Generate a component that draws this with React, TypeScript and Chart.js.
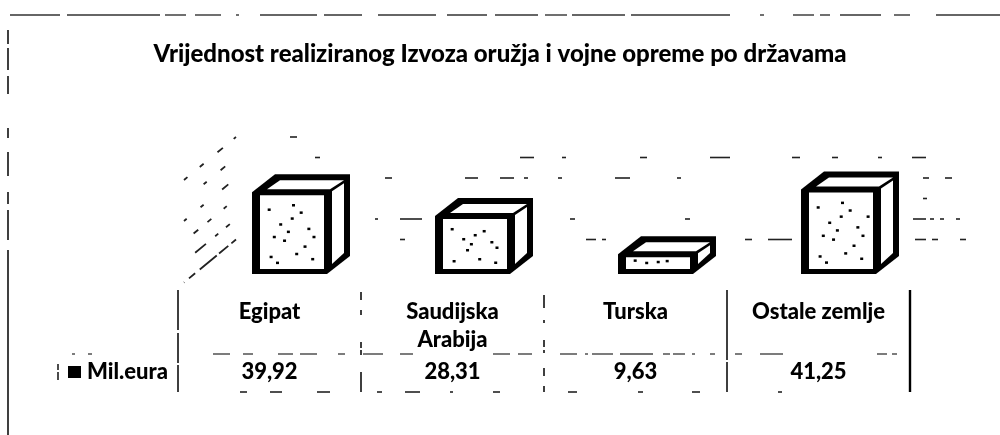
import React, { useEffect, useRef } from "react";
import { Chart, registerables } from "chart.js";

Chart.register(...registerables);

const chartTitle = "Vrijednost realiziranog Izvoza oružja i vojne opreme po državama";
const seriesName = "Mil.eura";
const categories: (string | string[])[] = ["Egipat", ["Saudijska", "Arabija"], "Turska", "Ostale zemlje"];
const milEura = [39.92, 28.31, 9.63, 41.25];
const axisMax = 60;
const axisStep = 10;

const FONT = "Lato, Carlito, sans-serif";
const INK = "#000000";

// scan-damaged look of the rules: which stretches of each line survived
const gridFragments: Record<number, number[][]> = {
  10: [[400, 405], [586, 590], [590, 596], [602, 606], [745, 752], [768, 792], [915, 926], [932, 938], [960, 966]],
  20: [[375, 378], [400, 422], [570, 575], [685, 690], [913, 926], [930, 934], [940, 944], [956, 960]],
  30: [[923, 927]],
  40: [[385, 392], [465, 478], [500, 514], [524, 528], [558, 562], [615, 630], [677, 681], [923, 929], [945, 952]],
  50: [[315, 320], [520, 534], [562, 566], [640, 647], [710, 730], [792, 800], [832, 838], [878, 882], [912, 926]],
  60: [[290, 297]],
};
const wallDash: Record<number, number[]> = {
  10: [6, 4, 12, 3, 22, 6, 8],
  20: [0, 8, 5, 10, 4, 12, 14, 20],
  30: [0, 12, 4, 16, 5, 12, 6, 40],
  40: [0, 10, 8, 24, 4, 18, 5, 40],
  50: [0, 14, 6, 18, 4, 30, 4, 40],
  60: [3, 14, 7, 18, 5, 16, 6, 60],
};
const topRuleFragments = [
  [10, 60], [67, 160], [165, 186], [195, 221], [236, 239], [260, 317], [324, 362], [378, 436], [447, 487],
  [495, 538], [545, 567], [572, 625], [631, 730], [760, 764], [793, 814], [820, 830], [840, 881], [894, 910], [936, 1000],
];
const rowRuleFragments = [
  [72, 75], [88, 92], [213, 230], [243, 253], [278, 293], [300, 317], [338, 345], [363, 383], [400, 413], [493, 510],
  [518, 532], [560, 577], [585, 588], [592, 613], [620, 653], [663, 670], [673, 685], [692, 695], [710, 715],
  [735, 742], [760, 783], [877, 887], [892, 897],
];
const bottomRuleFragments = [
  [240, 247], [270, 282], [317, 330], [377, 382], [405, 420], [450, 453], [493, 500], [568, 577], [638, 643], [692, 700], [778, 782],
];
const columnRuleDash = [
  [40, 3, 30, 2, 40],
  [0, 2, 8, 10, 5, 27, 6, 2, 5, 17, 22],
  [0, 5, 13, 12, 3, 17, 7, 3, 3, 15, 8, 10, 12],
  [70, 2, 40],
  [],
];
const leftRuleDash = [14, 4, 22, 6, 18, 34, 10, 14, 24, 16, 12, 6, 30, 10, 600];
const specks = [
  [0.12, 0.18], [0.62, 0.22], [0.48, 0.3], [0.3, 0.38], [0.74, 0.44], [0.15, 0.82], [0.42, 0.48], [0.82, 0.55],
  [0.36, 0.6], [0.55, 0.78], [0.8, 0.85], [0.25, 0.9], [0.68, 0.68], [0.5, 0.12], [0.2, 0.55], [0.9, 0.3],
];

const DEPTH_X = 23;
const DEPTH_Y = 18;
const GRID_LIFT = 14;
const CUBE_SHIFT = 20;

function poly(ctx: CanvasRenderingContext2D, pts: number[][], color: string) {
  ctx.fillStyle = color;
  ctx.beginPath();
  pts.forEach(([x, y], i) => (i ? ctx.lineTo(x, y) : ctx.moveTo(x, y)));
  ctx.closePath();
  ctx.fill();
}

function rule(ctx: CanvasRenderingContext2D, x0: number, y0: number, x1: number, y1: number, w: number, dash: number[], color = INK) {
  ctx.save();
  ctx.strokeStyle = color;
  ctx.lineWidth = w;
  ctx.setLineDash(dash);
  ctx.beginPath();
  ctx.moveTo(x0, y0);
  ctx.lineTo(x1, y1);
  ctx.stroke();
  ctx.restore();
}

function hFragments(ctx: CanvasRenderingContext2D, frags: number[][], y: number, w: number, color: string) {
  for (const [a, b] of frags) rule(ctx, a, y, b, y, w, [], color);
}

const backdropPlugin = {
  id: "backdrop",
  beforeDatasetsDraw(chart: any) {
    const { ctx, scales, chartArea } = chart;
    const y = scales.y;
    const left = chartArea.left;
    for (const tick of y.ticks) {
      const v = tick.value;
      if (!gridFragments[v]) continue;
      const py = y.getPixelForValue(v) - GRID_LIFT;
      hFragments(ctx, gridFragments[v], py, 1.6, "#222");
      rule(ctx, left + 58, py, left + 6, py + 43, 1.8, wallDash[v], "#222");
    }
  },
};

const cubePlugin = {
  id: "cubes",
  afterDatasetsDraw(chart: any) {
    const { ctx } = chart;
    const meta = chart.getDatasetMeta(0);
    meta.data.forEach((bar: any) => {
      const xl = bar.x + CUBE_SHIFT - bar.width / 2;
      const xr = xl + bar.width;
      const yt = bar.y;
      const yb = bar.base;
      poly(ctx, [
        [xl, yt], [xl + DEPTH_X, yt - DEPTH_Y], [xr + DEPTH_X, yt - DEPTH_Y],
        [xr + DEPTH_X, yb - DEPTH_Y], [xr, yb], [xl, yb],
      ], INK);
      // front face
      const fl = xl + 8, fr = xr - 3, ft = yt + 3, fb = yb - 5;
      poly(ctx, [[fl, ft], [fr, ft], [fr, fb], [fl, fb]], "#fff");
      // top face
      poly(ctx, [
        [xl + 15, yt - 3], [xl + DEPTH_X + 5, yt - DEPTH_Y + 6], [xr + DEPTH_X - 6, yt - DEPTH_Y + 6], [xr + 3, yt - 3],
      ], "#fff");
      // side face
      poly(ctx, [
        [xr + 5, yt - 1], [xr + DEPTH_X - 6, yt - DEPTH_Y + 9], [xr + DEPTH_X - 6, yb - DEPTH_Y - 3], [xr + 5, yb - 10],
      ], "#fff");
      // scan specks
      ctx.fillStyle = INK;
      const n = Math.round(((yb - yt) / 85) * specks.length);
      for (const [a, b] of specks.slice(0, n)) {
        ctx.fillRect(fl + a * (fr - fl), ft + b * (fb - ft), 3, 2.5);
      }
    });
  },
};

const tablePlugin = {
  id: "table",
  afterDraw(chart: any) {
    const { ctx, scales, chartArea } = chart;
    const x = scales.x;
    ctx.save();
    ctx.fillStyle = INK;
    ctx.textBaseline = "middle";

    // title
    ctx.textAlign = "center";
    ctx.font = `900 24px ${FONT}`;
    ctx.fillText(chartTitle, 500, 54);

    // outer scan frame
    hFragments(ctx, topRuleFragments, 15, 1.4, "#333");
    rule(ctx, 8, 30, 8, 435, 1.6, leftRuleDash, "#111");

    // data table
    const colW = (chartArea.right - chartArea.left) / categories.length;
    const top = 290, mid = 354, bot = 392;
    for (let i = 0; i <= categories.length; i++) {
      const vx = chartArea.left + i * colW;
      rule(ctx, vx, top, vx, bot, i === 4 ? 2.4 : 1.5, columnRuleDash[i]);
    }
    hFragments(ctx, rowRuleFragments, mid, 1.4, "#444");
    hFragments(ctx, bottomRuleFragments, bot, 1.6, "#222");

    ctx.font = `900 22px ${FONT}`;
    ctx.textAlign = "center";
    milEura.forEach((v, i) => {
      ctx.fillText(v.toFixed(2).replace(".", ","), x.getPixelForValue(i), 372);
    });

    // legend key
    ctx.fillRect(68, 366, 13, 12);
    ctx.textAlign = "left";
    ctx.fillText(seriesName, 87, 372);
    rule(ctx, 58, 364, 58, 381, 1.4, [6, 2, 8]);
    ctx.restore();
  },
};

export default function App() {
  const ref = useRef<HTMLCanvasElement>(null);
  useEffect(() => {
    document.body.style.margin = "0";
    document.body.style.background = "#fff";
    const chart = new Chart(ref.current!, {
      type: "bar",
      data: {
        labels: categories as any,
        datasets: [{
          label: seriesName,
          data: milEura,
          backgroundColor: "rgba(0,0,0,0)",
          borderWidth: 0,
          barThickness: 75,
        }],
      },
      options: {
        animation: false,
        responsive: false,
        layout: { padding: { left: 178, right: 90, top: 151, bottom: 81 } },
        plugins: { legend: { display: false }, title: { display: false }, tooltip: { enabled: false } },
        scales: {
          x: {
            grid: { display: false, drawTicks: false },
            border: { display: false },
            ticks: {
              color: INK,
              autoSkip: false,
              maxRotation: 0,
              padding: 24,
              font: { family: FONT, size: 22, weight: "900", lineHeight: 1.27 },
            },
            afterFit(scale: any) {
              scale.height = 80;
            },
          },
          y: { display: false, min: 0, max: axisMax, ticks: { stepSize: axisStep } },
        },
      },
      plugins: [backdropPlugin, cubePlugin, tablePlugin],
    } as any);
    return () => chart.destroy();
  }, []);
  return <canvas ref={ref} width={1000} height={435} style={{ display: "block" }} />;
}
